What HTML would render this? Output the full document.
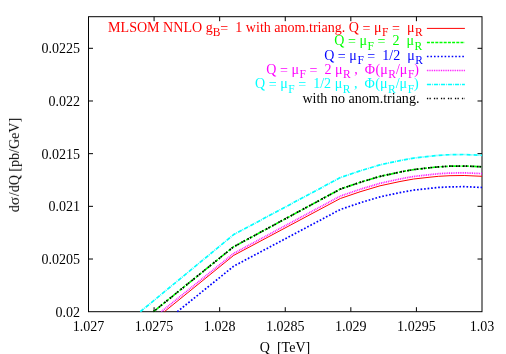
<!DOCTYPE html>
<html><head><meta charset="utf-8"><title>plot</title>
<style>
html,body{margin:0;padding:0;background:#fff;}
svg{display:block;}
text{font-family:"Liberation Serif",serif;font-size:14.06px;white-space:pre;}
</style></head><body>
<svg width="506" height="354" viewBox="0 0 506 354">
<rect x="0" y="0" width="506" height="354" fill="#fff"/>
<g opacity="0.999">

<g stroke="#000" stroke-width="1" fill="none">
<rect x="88.5" y="16.7" width="393.5" height="295.0"/>
<path d="M154.08 311.70v-4.50 M154.08 16.70v4.50"/>
<path d="M219.67 311.70v-4.50 M219.67 16.70v4.50"/>
<path d="M285.25 311.70v-4.50 M285.25 16.70v4.50"/>
<path d="M350.83 311.70v-4.50 M350.83 16.70v4.50"/>
<path d="M416.42 311.70v-4.50 M416.42 16.70v4.50"/>
<path d="M88.50 259.02h4.50 M482.00 259.02h-4.50"/>
<path d="M88.50 206.34h4.50 M482.00 206.34h-4.50"/>
<path d="M88.50 153.66h4.50 M482.00 153.66h-4.50"/>
<path d="M88.50 100.99h4.50 M482.00 100.99h-4.50"/>
<path d="M88.50 48.31h4.50 M482.00 48.31h-4.50"/>
</g>
<text x="88.50" y="330.9" text-anchor="middle">1.027</text>
<text x="154.08" y="330.9" text-anchor="middle">1.0275</text>
<text x="219.67" y="330.9" text-anchor="middle">1.028</text>
<text x="285.25" y="330.9" text-anchor="middle">1.0285</text>
<text x="350.83" y="330.9" text-anchor="middle">1.029</text>
<text x="416.42" y="330.9" text-anchor="middle">1.0295</text>
<text x="482.00" y="330.9" text-anchor="middle">1.03</text>
<text x="80.1" y="316.65" text-anchor="end">0.02</text>
<text x="80.1" y="263.97" text-anchor="end">0.0205</text>
<text x="80.1" y="211.29" text-anchor="end">0.021</text>
<text x="80.1" y="158.61" text-anchor="end">0.0215</text>
<text x="80.1" y="105.94" text-anchor="end">0.022</text>
<text x="80.1" y="53.26" text-anchor="end">0.0225</text>
<text x="285" y="351.7" text-anchor="middle" xml:space="preserve">Q  [TeV]</text>
<text transform="translate(19,164.9) rotate(-90)" text-anchor="middle">d<tspan font-size="15.4" letter-spacing="0.6">&#963;</tspan>/dQ [pb/GeV]</text>
<path d="M164.40 311.70 L233.70 255.40 L340.30 198.50 L360.00 191.80 L380.00 185.80 L400.00 181.50 L413.70 179.00 L430.00 177.20 L438.70 176.30 L450.00 175.70 L464.20 175.50 L482.00 176.30" stroke="#f00" stroke-width="1.0" fill="none" stroke-linejoin="round"/>
<path d="M153.40 311.70 L233.70 246.70 L340.30 189.10 L360.00 182.39 L380.00 176.37 L400.00 172.06 L413.70 169.55 L430.00 167.74 L438.70 166.83 L450.00 166.22 L464.20 166.01 L482.00 166.80" stroke="#0f0" stroke-width="1.7" fill="none" stroke-linejoin="round" stroke-dasharray="3,1.2"/>
<path d="M177.30 311.70 L233.70 266.20 L340.30 209.50 L360.00 202.83 L380.00 196.86 L400.00 192.58 L413.70 190.10 L430.00 188.33 L438.70 187.44 L450.00 186.85 L464.20 186.67 L482.00 187.50" stroke="#00f" stroke-width="1.7" fill="none" stroke-linejoin="round" stroke-dasharray="1.7,1.84"/>
<path d="M161.30 311.70 L233.70 253.40 L340.30 196.10 L360.00 189.36 L380.00 183.32 L400.00 178.97 L413.70 176.44 L430.00 174.61 L438.70 173.69 L450.00 173.07 L464.20 172.84 L482.00 173.60" stroke="#f0f" stroke-width="1.7" fill="none" stroke-linejoin="round" stroke-dasharray="0.9,0.87"/>
<path d="M140.30 311.70 L233.70 234.60 L340.30 177.60 L360.00 170.89 L380.00 164.87 L400.00 160.56 L413.70 158.05 L430.00 156.24 L438.70 155.33 L450.00 154.72 L464.20 154.51 L482.00 155.30" stroke="#0ff" stroke-width="1.7" fill="none" stroke-linejoin="round" stroke-dasharray="4.2,0.9,0.8,1.1"/>
<path d="M153.40 311.70 L233.70 246.70 L340.30 189.10 L360.00 182.39 L380.00 176.37 L400.00 172.06 L413.70 169.55 L430.00 167.74 L438.70 166.83 L450.00 166.22 L464.20 166.01 L482.00 166.80" stroke="#000" stroke-width="1.7" fill="none" stroke-linejoin="round" stroke-dasharray="1.6,1.0,1.6,2.8"/>
<text x="108.10" y="31.70" text-anchor="start" fill="#f00" xml:space="preserve">MLSOM NNLO g<tspan dy="4.4" font-size="11.5">B</tspan><tspan dy="-4.4">&#8203;</tspan><tspan dy="1">=</tspan><tspan dy="-1">&#8203;</tspan>  1 with anom.triang. Q <tspan dy="1">=</tspan><tspan dy="-1">&#8203;</tspan> <tspan letter-spacing="0.56">&#956;</tspan><tspan dy="4.4" font-size="11.5">F</tspan><tspan dy="-4.4">&#8203;</tspan> <tspan dy="1">=</tspan><tspan dy="-1">&#8203;</tspan>  <tspan letter-spacing="0.56">&#956;</tspan><tspan dy="4.4" font-size="11.5">R</tspan><tspan dy="-4.4">&#8203;</tspan></text>
<path d="M426.90 28.40 L464.90 28.40" stroke="#f00" stroke-width="1.0" fill="none" stroke-linejoin="round"/>
<text x="334.30" y="45.30" text-anchor="start" fill="#0f0" xml:space="preserve">Q <tspan dy="1">=</tspan><tspan dy="-1">&#8203;</tspan> <tspan letter-spacing="0.56">&#956;</tspan><tspan dy="4.4" font-size="11.5">F</tspan><tspan dy="-4.4">&#8203;</tspan> <tspan dy="1">=</tspan><tspan dy="-1">&#8203;</tspan>  2  <tspan letter-spacing="0.56">&#956;</tspan><tspan dy="4.4" font-size="11.5">R</tspan><tspan dy="-4.4">&#8203;</tspan></text>
<path d="M426.90 42.40 L464.90 42.40" stroke="#0f0" stroke-width="1.5" fill="none" stroke-linejoin="round" stroke-dasharray="3,1.2"/>
<text x="324.20" y="59.50" text-anchor="start" fill="#00f" xml:space="preserve">Q <tspan dy="1">=</tspan><tspan dy="-1">&#8203;</tspan> <tspan letter-spacing="0.56">&#956;</tspan><tspan dy="4.4" font-size="11.5">F</tspan><tspan dy="-4.4">&#8203;</tspan> <tspan dy="1">=</tspan><tspan dy="-1">&#8203;</tspan>  1/2  <tspan letter-spacing="0.56">&#956;</tspan><tspan dy="4.4" font-size="11.5">R</tspan><tspan dy="-4.4">&#8203;</tspan></text>
<path d="M426.90 56.40 L464.90 56.40" stroke="#00f" stroke-width="1.5" fill="none" stroke-linejoin="round" stroke-dasharray="1.6,1.94"/>
<text x="266.30" y="73.80" text-anchor="start" fill="#f0f" xml:space="preserve">Q <tspan dy="1">=</tspan><tspan dy="-1">&#8203;</tspan> <tspan letter-spacing="0.56">&#956;</tspan><tspan dy="4.4" font-size="11.5">F</tspan><tspan dy="-4.4">&#8203;</tspan> <tspan dy="1">=</tspan><tspan dy="-1">&#8203;</tspan>  2 <tspan letter-spacing="0.56">&#956;</tspan><tspan dy="4.4" font-size="11.5">R</tspan><tspan dy="-4.4">&#8203;</tspan> ,  <tspan letter-spacing="0.45">&#934;</tspan>(<tspan letter-spacing="0.56">&#956;</tspan><tspan dy="4.4" font-size="11.5">R</tspan><tspan dy="-4.4">&#8203;</tspan>/<tspan letter-spacing="0.56">&#956;</tspan><tspan dy="4.4" font-size="11.5">F</tspan><tspan dy="-4.4">&#8203;</tspan>)</text>
<path d="M426.90 70.40 L464.90 70.40" stroke="#f0f" stroke-width="1.5" fill="none" stroke-linejoin="round" stroke-dasharray="0.9,0.87"/>
<text x="255.10" y="88.40" text-anchor="start" fill="#0ff" xml:space="preserve">Q <tspan dy="1">=</tspan><tspan dy="-1">&#8203;</tspan> <tspan letter-spacing="0.56">&#956;</tspan><tspan dy="4.4" font-size="11.5">F</tspan><tspan dy="-4.4">&#8203;</tspan> <tspan dy="1">=</tspan><tspan dy="-1">&#8203;</tspan>  1/2 <tspan letter-spacing="0.56">&#956;</tspan><tspan dy="4.4" font-size="11.5">R</tspan><tspan dy="-4.4">&#8203;</tspan> ,  <tspan letter-spacing="0.45">&#934;</tspan>(<tspan letter-spacing="0.56">&#956;</tspan><tspan dy="4.4" font-size="11.5">R</tspan><tspan dy="-4.4">&#8203;</tspan>/<tspan letter-spacing="0.56">&#956;</tspan><tspan dy="4.4" font-size="11.5">F</tspan><tspan dy="-4.4">&#8203;</tspan>)</text>
<path d="M426.90 84.40 L464.90 84.40" stroke="#0ff" stroke-width="1.5" fill="none" stroke-linejoin="round" stroke-dasharray="4.2,0.9,0.8,1.1"/>
<text x="302.40" y="103.00" text-anchor="start" fill="#000" xml:space="preserve">with no anom.triang.</text>
<path d="M426.90 98.40 L464.90 98.40" stroke="#000" stroke-width="1.5" fill="none" stroke-linejoin="round" stroke-dasharray="1.3,1.3,1.3,3.1"/>
</g></svg></body></html>
